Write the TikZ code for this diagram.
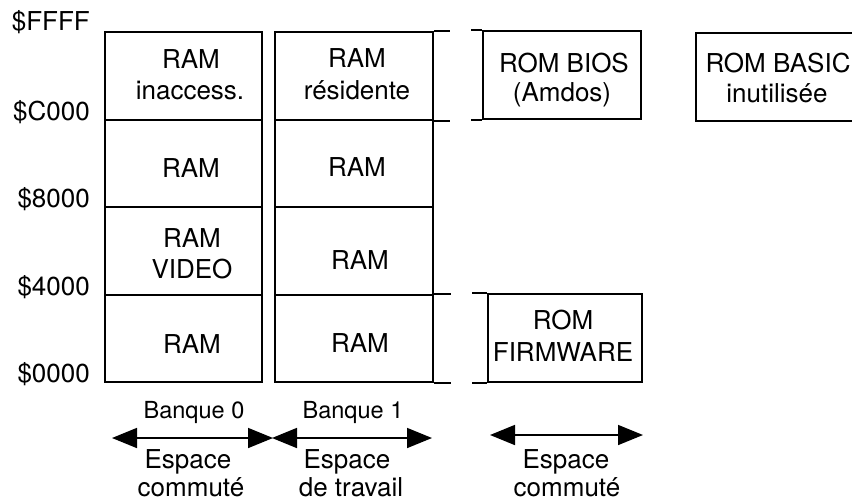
\documentclass[tikz,border=0pt]{standalone}
\usepackage{fontspec}
\setmainfont{TeX Gyre Heros}
\usetikzlibrary{arrows.meta}
\begin{document}
\begin{tikzpicture}[x=1pt,y=-1pt,
  cell/.style={draw, line width=1.8pt, rectangle, inner sep=0pt, minimum height=88pt},
  wire/.style={line width=1.8pt},
  txt/.style={inner sep=0pt, font=\fontsize{26}{30}\selectfont, anchor=base},
  small/.style={inner sep=0pt, font=\fontsize{23.5}{27}\selectfont, anchor=base},
  addr/.style={inner sep=0pt, font=\fontsize{26}{30}\selectfont, anchor=base east},
  span/.style={line width=1.6pt, {Triangle[length=25pt,width=20pt]}-{Triangle[length=25pt,width=20pt]}}]
\clip (0,0) rectangle (852,501);
% address labels
\node[addr] (aFFFF) at (90,30) {\$FFFF};
\node[addr] (aC000) at (90,120) {\$C000};
\node[addr] (a8000) at (90,207) {\$8000};
\node[addr] (a4000) at (90,295) {\$4000};
\node[addr] (a0000) at (90,382) {\$0000};
% bank 0
\node[cell, minimum width=157pt] (b0r1) at (183.5,76) {};
\node[cell, minimum width=157pt, minimum height=87pt] (b0r2) at (183.5,163.5) {};
\node[cell, minimum width=157pt] (b0r3) at (183.5,251) {};
\node[cell, minimum width=157pt, minimum height=87pt] (b0r4) at (183.5,338.5) {};
% bank 1
\node[cell, minimum width=158pt] (b1r1) at (354,76) {};
\node[cell, minimum width=158pt, minimum height=87pt] (b1r2) at (354,163.5) {};
\node[cell, minimum width=158pt] (b1r3) at (354,251) {};
\node[cell, minimum width=158pt, minimum height=87pt] (b1r4) at (354,338.5) {};
\draw[wire] (b1r1.north east) -- ++(16,0);
\draw[wire] (b1r1.south east) -- ++(16,0);
\draw[wire] (b1r4.north east) -- ++(17,0);
\draw[wire] (b1r4.south east) -- ++(17,0);
% ROM boxes
\node[cell, minimum width=158pt] (bios) at (562,75) {};
\draw[wire] (bios.north west) -- ++(-11,0);
\draw[wire] (bios.south west) -- ++(-11,0);
\node[cell, minimum width=154pt] (firm) at (565,338) {};
\draw[wire] (firm.north west) -- ++(-15,0);
\draw[wire] (firm.south west) -- ++(-15,0);
\node[cell, minimum width=164pt] (basic) at (778,77) {};
% cell texts
\node[txt] (t01a) at (191,68) {RAM};
\node[txt] (t01b) at (190,99) {inaccess.};
\node[txt] (t02) at (191,177) {RAM};
\node[txt] (t03a) at (192,247) {RAM};
\node[txt] (t03b) at (192,278) {VIDEO};
\node[txt] (t04) at (192,353) {RAM};
\node[txt] (t11a) at (357,67) {RAM};
\node[txt] (t11b) at (357,99) {résidente};
\node[txt] (t12) at (357,176) {RAM};
\node[txt] (t13) at (360,269) {RAM};
\node[txt] (t14) at (360,352) {RAM};
\node[txt] (tbiosa) at (564,72) {ROM BIOS};
\node[txt] (tbiosb) at (562,101) {(Amdos)};
\node[txt] (tbasa) at (778,72) {ROM BASIC};
\node[txt] (tbasb) at (777,102) {inutilisée};
\node[txt] (tfirma) at (563,329) {ROM};
\node[txt] (tfirmb) at (563,361) {FIRMWARE};
% bottom labels
\node[small] (bq0) at (194,418) {Banque 0};
\node[small] (bq1) at (353,418) {Banque 1};
\coordinate (a0l) at (112,438);
\coordinate (a0r) at (273,438);
\coordinate (a1l) at (272,438);
\coordinate (a1r) at (432,438);
\coordinate (a2l) at (490,435);
\coordinate (a2r) at (643,435);
\draw[span] (a0l) -- (a0r);
\draw[span] (a1l) -- (a1r);
\draw[span] (a2l) -- (a2r);
\node[txt] (e0a) at (188,468) {Espace};
\node[txt] (e0b) at (191,496) {commuté};
\node[txt] (e1a) at (347,468) {Espace};
\node[txt] (e1b) at (351,496) {de travail};
\node[txt] (e2a) at (566,468) {Espace};
\node[txt] (e2b) at (567,496) {commuté};
\end{tikzpicture}
\end{document}
